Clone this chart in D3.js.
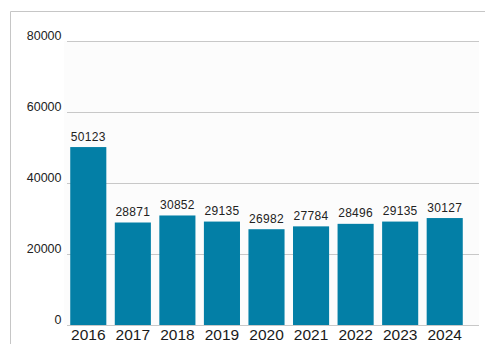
<!DOCTYPE html>
<html>
<head>
<meta charset="utf-8">
<script src="https://cdn.jsdelivr.net/npm/d3@7"></script>
<style>
  html, body { margin: 0; padding: 0; background: #ffffff; }
  svg { display: block; font-family: "Liberation Sans", Arial, sans-serif; }
</style>
</head>
<body>
<svg id="chart" width="485" height="344"></svg>
<script>
// Yearly totals
const years = ["2016", "2017", "2018", "2019", "2020", "2021", "2022", "2023", "2024"];
const totals = [50123, 28871, 30852, 29135, 26982, 27784, 28496, 29135, 30127];
const yTicks = [0, 20000, 40000, 60000, 80000];

const svg = d3.select("#chart");

const x = d3.scaleBand()
  .domain(years)
  .range([66, 467])
  .paddingInner(0.19)
  .paddingOuter(0.095);

const y = d3.scaleLinear()
  .domain([0, 80000])
  .range([325, 41]);

// Frame (top and left edges)
svg.append("path")
  .attr("d", "M10.5,344 V11.5 H485")
  .attr("fill", "none")
  .attr("stroke", "#c6c6c6")
  .attr("stroke-width", 1);

// Plot background
svg.append("rect")
  .attr("x", 64).attr("y", y(80000))
  .attr("width", 479 - 64).attr("height", y(0) - y(80000))
  .attr("fill", "#fcfcfc");

// Horizontal gridlines and value axis labels
const yAxis = d3.axisLeft(y)
  .tickValues(yTicks)
  .tickSize(0)
  .tickPadding(0)
  .tickFormat(d3.format("d"));

const gy = svg.append("g")
  .attr("transform", "translate(61.5,0)")
  .call(yAxis);
gy.select(".domain").remove();
gy.selectAll(".tick text")
  .attr("font-family", "\"Liberation Sans\", Arial, sans-serif")
  .attr("font-size", 12.5)
  .attr("fill", "#222")
  .attr("dy", "-0.1em")
  .attr("x", 0);

svg.append("g")
  .selectAll("line")
  .data(yTicks)
  .join("line")
  .attr("x1", 67).attr("x2", 479)
  .attr("y1", d => Math.round(y(d)) + 0.5)
  .attr("y2", d => Math.round(y(d)) + 0.5)
  .attr("stroke", "#c8c8c8")
  .attr("stroke-width", 1);

// Bars
svg.append("g")
  .selectAll("rect")
  .data(years)
  .join("rect")
  .attr("x", d => x(d))
  .attr("y", (d, i) => y(totals[i]))
  .attr("width", x.bandwidth())
  .attr("height", (d, i) => y(0) - y(totals[i]))
  .attr("fill", "#037fa6");

// Value labels above bars
svg.append("g")
  .selectAll("text")
  .data(years)
  .join("text")
  .attr("x", d => x(d) + x.bandwidth() / 2)
  .attr("y", (d, i) => y(totals[i]) - 6.5)
  .attr("text-anchor", "middle")
  .attr("font-size", 12)
  .attr("letter-spacing", "0.3px")
  .attr("fill", "#222")
  .text((d, i) => totals[i]);

// Category axis
const xAxis = d3.axisBottom(x).tickSize(0).tickPadding(0);
const gx = svg.append("g")
  .attr("transform", "translate(0,325)")
  .call(xAxis);
gx.select(".domain").remove();
gx.selectAll(".tick text")
  .attr("font-family", "\"Liberation Sans\", Arial, sans-serif")
  .attr("font-size", 15.5)
  .attr("fill", "#1a1a1a")
  .attr("dy", "0")
  .attr("y", 15);
</script>
</body>
</html>
